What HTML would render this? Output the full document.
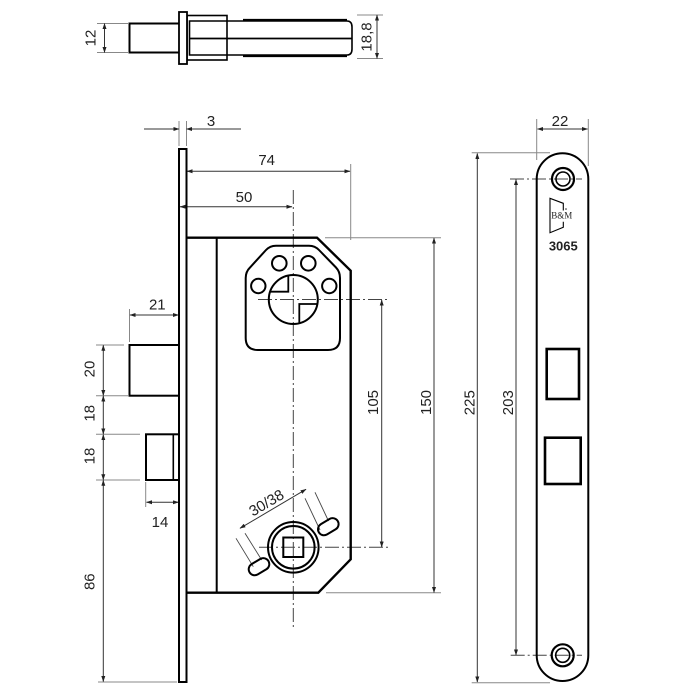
<!DOCTYPE html>
<html><head><meta charset="utf-8"><style>
html,body{margin:0;padding:0;background:#fff;}
svg{display:block;}
text{font-family:"Liberation Sans",sans-serif;fill:#222;}
</style></head><body>
<svg width="700" height="700" viewBox="0 0 700 700" xmlns="http://www.w3.org/2000/svg">
<defs>
<marker id="a" markerUnits="userSpaceOnUse" markerWidth="6" markerHeight="6" refX="5.5" refY="2" orient="auto-start-reverse"><path d="M0,0 L6,2 L0,4 z" fill="#222"/></marker>
</defs>
<rect width="700" height="700" fill="#fff"/>

<!-- ===== TOP VIEW ===== -->
<g fill="none" stroke="#000">
<rect x="129.5" y="23.5" width="50" height="29" stroke-width="2"/>
<rect x="187" y="15.5" width="40" height="44.5" stroke-width="1.6"/>
<path d="M189.5,21 L347,21 Q352,21 352,27 L352,49 Q352,55 347,55 L189.5,55 Z" stroke-width="1.6"/>
<line x1="243" y1="20" x2="347" y2="20" stroke-width="2.2"/>
<line x1="243" y1="56" x2="347" y2="56" stroke-width="2.2"/>
<line x1="189.5" y1="38.5" x2="352" y2="38.5" stroke-width="1.8"/>
<rect x="179" y="12" width="8" height="52" stroke-width="1.8" fill="#fff"/>
</g>
<g stroke="#888" stroke-width="1" fill="none">
<line x1="97" y1="23.5" x2="129" y2="23.5"/>
<line x1="97" y1="52.5" x2="129" y2="52.5"/>
<line x1="357" y1="15" x2="383" y2="15"/>
<line x1="357" y1="58.5" x2="383" y2="58.5"/>
</g>
<g stroke="#333" stroke-width="1" fill="none">
<line x1="104.5" y1="23.5" x2="104.5" y2="52.5" marker-start="url(#a)" marker-end="url(#a)"/>
<line x1="377" y1="15" x2="377" y2="58.5" marker-start="url(#a)" marker-end="url(#a)"/>
</g>
<text x="91" y="38" font-size="15" text-anchor="middle" dominant-baseline="central" transform="rotate(-90 91 38)">12</text>
<text x="367" y="37" font-size="15" text-anchor="middle" dominant-baseline="central" transform="rotate(-90 367 37)">18,8</text>

<!-- ===== SIDE VIEW ===== -->
<!-- center lines -->
<g stroke="#444" stroke-width="1" fill="none" stroke-dasharray="14 3 2 3">
<line x1="293.3" y1="190" x2="293.3" y2="628"/>
<line x1="258" y1="299.5" x2="388" y2="299.5"/>
<line x1="259" y1="547.3" x2="388" y2="547.3"/>
</g>
<!-- extension lines -->
<g stroke="#888" stroke-width="1" fill="none">
<line x1="179" y1="121" x2="179" y2="146"/>
<line x1="186.5" y1="121" x2="186.5" y2="146"/>
<line x1="350.7" y1="164" x2="350.7" y2="240"/>
<line x1="325" y1="237.7" x2="441" y2="237.7"/>
<line x1="326" y1="592.7" x2="441" y2="592.7"/>
<line x1="129.5" y1="309" x2="129.5" y2="342"/>
<line x1="96" y1="345" x2="124" y2="345"/>
<line x1="96" y1="395.7" x2="128" y2="395.7"/>
<line x1="96" y1="434.3" x2="140" y2="434.3"/>
<line x1="96" y1="480" x2="140" y2="480"/>
<line x1="98" y1="682" x2="177" y2="682"/>
<line x1="145.7" y1="482" x2="145.7" y2="507"/>
</g>
<!-- dimension lines -->
<g stroke="#333" stroke-width="1" fill="none">
<line x1="144" y1="129" x2="179" y2="129" marker-end="url(#a)"/>
<line x1="241" y1="129" x2="186.5" y2="129" marker-end="url(#a)"/>
<line x1="187" y1="171.3" x2="350" y2="171.3" marker-start="url(#a)" marker-end="url(#a)"/>
<line x1="180" y1="206.7" x2="292" y2="206.7" marker-start="url(#a)" marker-end="url(#a)"/>
<line x1="434" y1="238" x2="434" y2="592.5" marker-start="url(#a)" marker-end="url(#a)"/>
<line x1="381.7" y1="300" x2="381.7" y2="547" marker-start="url(#a)" marker-end="url(#a)"/>
<line x1="130" y1="315" x2="178.5" y2="315" marker-start="url(#a)" marker-end="url(#a)"/>
<line x1="103.3" y1="345.3" x2="103.3" y2="395.5" marker-start="url(#a)" marker-end="url(#a)"/>
<line x1="103.3" y1="396" x2="103.3" y2="434" marker-start="url(#a)" marker-end="url(#a)"/>
<line x1="103.3" y1="434.6" x2="103.3" y2="479.7" marker-start="url(#a)" marker-end="url(#a)"/>
<line x1="103.3" y1="480.3" x2="103.3" y2="681.5" marker-start="url(#a)" marker-end="url(#a)"/>
<line x1="146.5" y1="502.3" x2="178.5" y2="502.3" marker-start="url(#a)" marker-end="url(#a)"/>
<line x1="240" y1="528.3" x2="306" y2="489.3" marker-start="url(#a)" marker-end="url(#a)"/>
</g>
<!-- leader lines for slots -->
<g stroke="#444" stroke-width="0.9" fill="none">
<line x1="305" y1="498.3" x2="320" y2="530"/>
<line x1="315" y1="492.3" x2="328.5" y2="521"/>
<line x1="236" y1="538.3" x2="253.3" y2="566.7"/>
<line x1="245" y1="533.3" x2="261.7" y2="560"/>
</g>

<!-- object lines -->
<g fill="none" stroke="#000">
<rect x="179" y="149" width="7.5" height="533" stroke-width="2"/>
<path d="M186.5,237.7 L317,237.7 L350.7,270.7 L350.7,559.3 L318.3,592.7 L186.5,592.7" stroke-width="2.4"/>
<line x1="216.7" y1="237.7" x2="216.7" y2="592.7" stroke-width="2"/>
<rect x="129.5" y="345" width="49.5" height="50.7" stroke-width="2"/>
<rect x="146" y="434.3" width="33" height="45.7" stroke-width="2"/>
<line x1="173.3" y1="434.3" x2="173.3" y2="480" stroke-width="1.6"/>
<!-- cylinder cutout -->
<path d="M276,245.7 L309,245.7 Q315,245.7 319,250 L336,267.5 Q340,271.7 340,278 L340,338 Q340,350 328,350 L258,350 Q245.7,350 245.7,338 L245.7,278 Q245.7,271.7 250,267.5 L266,250 Q270,245.7 276,245.7 Z" stroke-width="2"/>
<circle cx="279.3" cy="263.3" r="7.3" stroke-width="2"/>
<circle cx="308.3" cy="263.3" r="7.3" stroke-width="2"/>
<circle cx="258.3" cy="286" r="7.2" stroke-width="2"/>
<circle cx="329.3" cy="286" r="7.2" stroke-width="2"/>
<circle cx="293.3" cy="299.5" r="24.5" stroke-width="2"/>
<path d="M270.1,291.7 L288.3,291.7 L288.3,275.5" stroke-width="1.8"/>
<path d="M317.4,304 L299.3,304 L299.3,323.2" stroke-width="1.8"/>
<!-- follower -->
<circle cx="293.3" cy="547.3" r="25.3" stroke-width="2"/>
<circle cx="293.3" cy="547.3" r="21.3" stroke-width="2"/>
<rect x="283.3" y="537.5" width="20" height="19.5" stroke-width="2"/>
<rect x="317.3" y="520.7" width="22" height="12" rx="6" ry="6" stroke-width="2" transform="rotate(-31 328.3 526.7)"/>
<rect x="248" y="560.7" width="22" height="12" rx="6" ry="6" stroke-width="2" transform="rotate(-31 259 566.7)"/>
</g>

<!-- side view texts -->
<g font-size="15">
<text x="211" y="121.5" text-anchor="middle" dominant-baseline="central">3</text>
<text x="266.7" y="160.5" text-anchor="middle" dominant-baseline="central">74</text>
<text x="244" y="197.5" text-anchor="middle" dominant-baseline="central">50</text>
<text x="157.3" y="305" text-anchor="middle" dominant-baseline="central">21</text>
<text x="160" y="522.7" text-anchor="middle" dominant-baseline="central">14</text>
<text x="90" y="369" text-anchor="middle" dominant-baseline="central" transform="rotate(-90 90 369)">20</text>
<text x="90" y="413.3" text-anchor="middle" dominant-baseline="central" transform="rotate(-90 90 413.3)">18</text>
<text x="90" y="456" text-anchor="middle" dominant-baseline="central" transform="rotate(-90 90 456)">18</text>
<text x="90" y="581.7" text-anchor="middle" dominant-baseline="central" transform="rotate(-90 90 581.7)">86</text>
<text x="373.3" y="402.5" text-anchor="middle" dominant-baseline="central" transform="rotate(-90 373.3 402.5)">105</text>
<text x="426.7" y="402.5" text-anchor="middle" dominant-baseline="central" transform="rotate(-90 426.7 402.5)">150</text>
<text x="266.7" y="503.3" text-anchor="middle" dominant-baseline="central" transform="rotate(-30.6 266.7 503.3)">30/38</text>
</g>

<!-- ===== FACEPLATE ===== -->
<g stroke="#888" stroke-width="1" fill="none">
<line x1="536.7" y1="119" x2="536.7" y2="160"/>
<line x1="588.3" y1="119" x2="588.3" y2="166"/>
<line x1="471.7" y1="152.7" x2="550" y2="152.7"/>
<line x1="471.7" y1="682.7" x2="550" y2="682.7"/>
</g>
<g stroke="#444" stroke-width="1" fill="none" stroke-dasharray="14 3 2 3">
<line x1="510" y1="179" x2="582" y2="179"/>
<line x1="510.7" y1="655.3" x2="582" y2="655.3"/>
</g>
<g stroke="#333" stroke-width="1" fill="none">
<line x1="537.5" y1="129" x2="587.5" y2="129" marker-start="url(#a)" marker-end="url(#a)"/>
<line x1="477.3" y1="153.5" x2="477.3" y2="682" marker-start="url(#a)" marker-end="url(#a)"/>
<line x1="516" y1="179.5" x2="516" y2="655" marker-start="url(#a)" marker-end="url(#a)"/>
</g>
<g fill="none" stroke="#000">
<path d="M536.7,179 A25.8,25.8 0 0 1 588.3,179 L588.3,655.2 A25.8,25.8 0 0 1 536.7,655.2 Z" stroke-width="2"/>
<circle cx="563" cy="179" r="11" stroke-width="2.2"/>
<circle cx="563" cy="179" r="7" stroke-width="1.6"/>
<circle cx="562.7" cy="655.3" r="11" stroke-width="2.2"/>
<circle cx="562.7" cy="655.3" r="7" stroke-width="1.6"/>
<rect x="546.7" y="349" width="32.3" height="50" stroke-width="2.6"/>
<rect x="545" y="437.7" width="35.7" height="46.3" stroke-width="2.6"/>
<path d="M563.3,210.5 L563.3,203.3 L550,198.3 L550,232.7 L563.3,227.3 L563.3,221.7" stroke-width="1.1"/>
</g>
<text x="561.7" y="215.5" font-family="Liberation Serif,serif" font-size="9" text-anchor="middle" dominant-baseline="central" style="font-family:'Liberation Serif',serif">B&amp;M</text>
<circle cx="566" cy="209" r="0.8" fill="#222"/>
<text x="563.3" y="246" font-size="13" font-weight="bold" text-anchor="middle" dominant-baseline="central">3065</text>
<g font-size="15">
<text x="560" y="121.7" text-anchor="middle" dominant-baseline="central">22</text>
<text x="470" y="402.7" text-anchor="middle" dominant-baseline="central" transform="rotate(-90 470 402.7)">225</text>
<text x="508.3" y="402.7" text-anchor="middle" dominant-baseline="central" transform="rotate(-90 508.3 402.7)">203</text>
</g>
</svg>
</body></html>
